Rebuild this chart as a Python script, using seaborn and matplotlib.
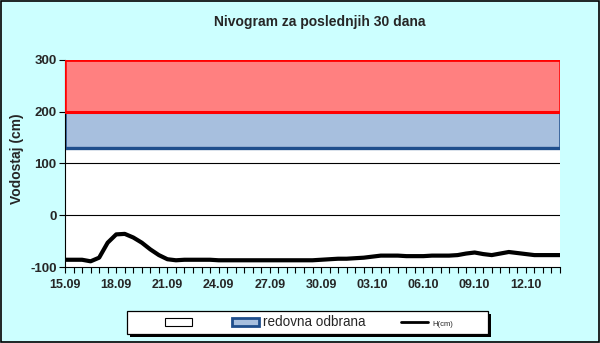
import numpy as np
import pandas as pd
import matplotlib
matplotlib.use("Agg")
import matplotlib.pyplot as plt
from matplotlib.patches import Rectangle, Patch
from matplotlib.lines import Line2D
import seaborn as sns

# days shown on the axis (30 days)
dates = ["15.09", "16.09", "17.09", "18.09", "19.09", "20.09", "21.09", "22.09", "23.09", "24.09",
         "25.09", "26.09", "27.09", "28.09", "29.09", "30.09", "01.10", "02.10", "03.10", "04.10",
         "05.10", "06.10", "07.10", "08.10", "09.10", "10.10", "11.10", "12.10", "13.10", "14.10"]
# water level H(cm), two readings per day (00h, 12h)
level = [-86, -86, -86, -89, -82, -53, -37, -36, -43, -53,
         -66, -77, -85, -87, -86, -86, -86, -86, -87, -87,
         -87, -87, -87, -87, -87, -87, -87, -87, -87, -87,
         -86, -85, -84, -84, -83, -82, -80, -78, -78, -78,
         -79, -79, -79, -78, -78, -78, -77, -74, -72, -75,
         -77, -74, -71, -73, -75, -77, -77, -77, -77]
readings_per_day = 2
band_blue = (130, 200)
band_red = (200, 300)
yticks = [-100, 0, 100, 200, 300]
legend_labels = ["", "redovna odbrana", "H(cm)"]

sns.set_theme(style="white")
plt.rcParams['font.family'] = ['Liberation Sans', 'DejaVu Sans']

fig = plt.figure(figsize=(6, 3.43), dpi=100)
fig.patch.set_facecolor("#CCFFFF")
fig.patches.append(Rectangle((0.001, 0.002), 0.997, 0.995, transform=fig.transFigure,
                             fill=False, edgecolor="black", linewidth=1.2))
ax = fig.add_axes([65/600, 1-267/343, 495/600, 207/343])
ax.set_facecolor("white")

t = np.arange(len(level)) / readings_per_day
df = pd.DataFrame({"t": t, "H": level})
ndays = len(dates) - 1

blue_edge = "#1F4E8C"
ax.axhspan(band_red[0], band_red[1], facecolor="#FF8080", edgecolor="none", zorder=1)
ax.axhspan(band_blue[0], band_blue[1], facecolor="#A7BFDE", edgecolor="none", zorder=1)
ax.plot([0, ndays], [band_blue[0]]*2, color=blue_edge, lw=2.4, zorder=2, solid_capstyle="butt")
ax.plot([0, 0], list(band_blue), color=blue_edge, lw=1.8, zorder=2)
ax.plot([ndays, ndays], list(band_blue), color=blue_edge, lw=1.8, zorder=2)
ax.plot([0, ndays], [band_red[0]]*2, color="#FF0000", lw=2.2, zorder=3)
ax.plot([0, ndays], [band_red[1]]*2, color="#FF0000", lw=2.0, zorder=3)
ax.plot([0, 0], list(band_red), color="#FF0000", lw=1.8, zorder=3)
ax.plot([ndays, ndays], list(band_red), color="#FF0000", lw=1.8, zorder=3)
for g in [0, 100]:
    ax.axhline(g, color="black", lw=0.8, zorder=1.5)

sns.lineplot(data=df, x="t", y="H", ax=ax, color="black", linewidth=3.0, zorder=4,
             legend=False)
line = ax.lines[-1]
line.set_solid_joinstyle("round")
line.set_solid_capstyle("round")

ax.set_xlim(0, ndays)
ax.set_ylim(-100, 300)
ax.set_yticks(yticks)
ax.set_yticklabels([str(v) for v in yticks], fontsize=9.5, fontweight="bold")
major = list(range(0, len(dates), 3))
ax.set_xticks(major)
ax.set_xticklabels([dates[i] for i in major], fontsize=9, fontweight="bold")
ax.set_xticks(t, minor=True)
ax.tick_params(axis="x", which="both", direction="out", length=4, width=0.8, color="black", pad=5, bottom=True)
ax.tick_params(axis="y", which="major", direction="out", length=4, width=0.8, color="black", left=True, pad=2)
ax.set_xlabel("")
ax.set_ylabel("")
for s in ["top", "right"]:
    ax.spines[s].set_visible(False)
for s in ["left", "bottom"]:
    ax.spines[s].set_color("black")
    ax.spines[s].set_linewidth(0.8)

fig.text(320/600, 1-22/343, "Nivogram za poslednjih 30 dana", ha="center", va="center",
         fontsize=10, fontweight="bold")
fig.text(17/600, 1-159/343, "Vodostaj (cm)", ha="center", va="center", rotation=90,
         fontsize=10, fontweight="bold")

# legend frame with shadow
lx0, ly0, lw, lh = 127/600, 1-334/343, 361/600, 23/343
fig.patches.append(Rectangle((lx0 + 3/600, ly0 - 3/343), lw, lh, transform=fig.transFigure,
                             facecolor="black", edgecolor="none", zorder=1))
fig.patches.append(Rectangle((lx0, ly0), lw, lh, transform=fig.transFigure,
                             facecolor="white", edgecolor="black", linewidth=0.9, zorder=2))

handles = [Patch(facecolor="white", edgecolor="black", linewidth=0.8),
           Patch(facecolor="#A7BFDE", edgecolor=blue_edge, linewidth=2),
           Line2D([0], [0], color="black", lw=2)]
leg = fig.legend(handles, legend_labels, loc="center", bbox_to_anchor=(309/600, 1-322.5/343),
                 ncol=3, frameon=False, fontsize=9.75,
                 handlelength=2.0, handleheight=0.55, columnspacing=2.65, handletextpad=0.3,
                 borderpad=0.2)
leg.set_zorder(5)
texts = leg.get_texts()
texts[2].set_fontsize(5.5)

fig.savefig("out.png", dpi=100, facecolor=fig.get_facecolor())
